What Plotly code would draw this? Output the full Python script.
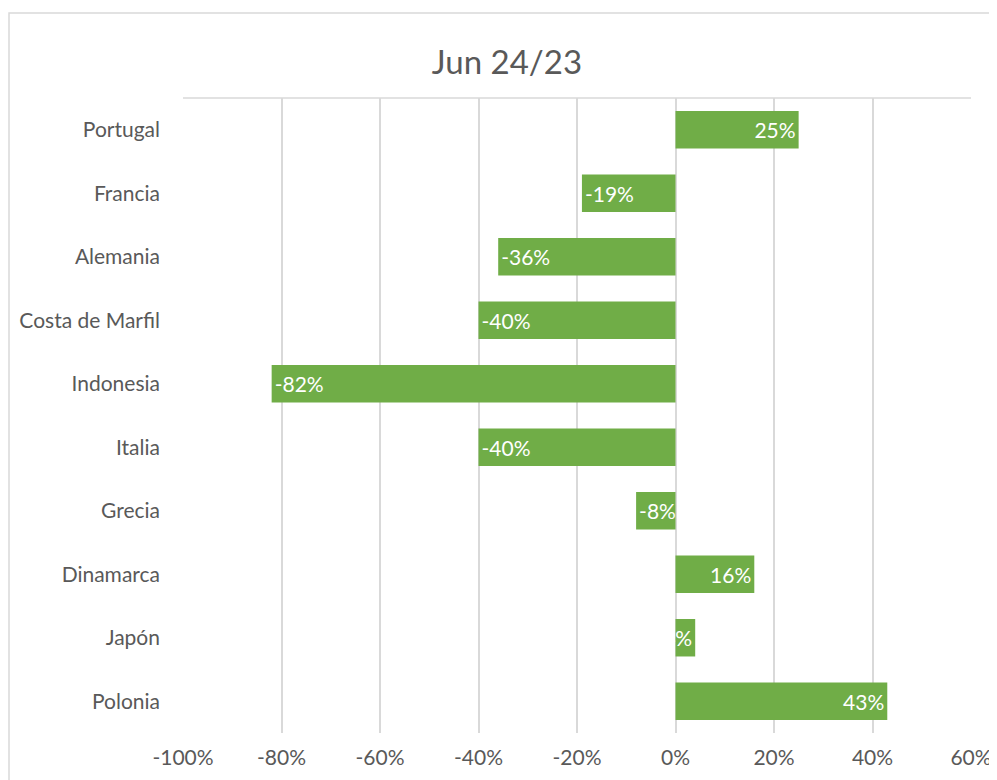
import plotly.graph_objects as go

countries = ["Portugal", "Francia", "Alemania", "Costa de Marfil", "Indonesia",
             "Italia", "Grecia", "Dinamarca", "Japón", "Polonia"]
change = [0.25, -0.19, -0.36, -0.40, -0.82, -0.40, -0.08, 0.16, 0.04, 0.43]

tick_vals = [-1.0, -0.8, -0.6, -0.4, -0.2, 0.0, 0.2, 0.4, 0.6]
tick_text = ["-100%", "-80%", "-60%", "-40%", "-20%", "0%", "20%", "40%", "60%"]

labels = [f"{v:.0%}" for v in change]

font_family = "Lato, 'Open Sans', sans-serif"
grey_text = "#595959"
grid_col = "#D9D9D9"

fig = go.Figure()

fig.add_trace(go.Bar(
    x=change,
    y=countries,
    orientation="h",
    marker=dict(color="#70AD47", line=dict(width=0)),
    text=labels,
    textposition="inside",
    insidetextanchor="end",
    textangle=0,
    textfont=dict(color="white", size=21, family=font_family),
    hoverinfo="skip",
))

# chart area border (runs off the right/bottom edge like the source)
fig.add_shape(type="rect", xref="paper", yref="paper",
              x0=-0.2208, x1=2, y0=-2, y1=1.134,
              line=dict(color=grid_col, width=1.5), layer="below")
# top edge of plot area
fig.add_shape(type="line", xref="paper", yref="paper",
              x0=0, x1=1, y0=1, y1=1,
              line=dict(color=grid_col, width=1.5))

# page body has an 8px margin, so the figure is sized to fit inside it
fig.update_layout(
    width=989,
    height=772,
    margin=dict(l=175, r=26, t=90, b=47, autoexpand=False),
    paper_bgcolor="white",
    plot_bgcolor="white",
    showlegend=False,
    bargap=0.41,
    uniformtext=dict(minsize=21, mode="show"),
    title=dict(
        text="Jun 24/23",
        x=0.5045, xref="container", xanchor="center",
        y=0.930, yref="container", yanchor="middle",
        font=dict(size=33, color=grey_text, family=font_family),
    ),
    font=dict(family=font_family, color=grey_text),
)

fig.update_xaxes(
    range=[-1.0, 0.6],
    tickvals=tick_vals,
    ticktext=tick_text,
    automargin=False,
    showgrid=True,
    gridcolor=grid_col,
    gridwidth=1.5,
    zeroline=False,
    showline=False,
    ticks="",
    ticklabelstandoff=10,
    tickfont=dict(size=21, color=grey_text),
)

fig.update_yaxes(
    autorange="reversed",
    automargin=False,
    showgrid=False,
    zeroline=False,
    showline=False,
    ticks="",
    ticklabelstandoff=22,
    tickfont=dict(size=21, color=grey_text),
)

fig.write_html("out.html")
